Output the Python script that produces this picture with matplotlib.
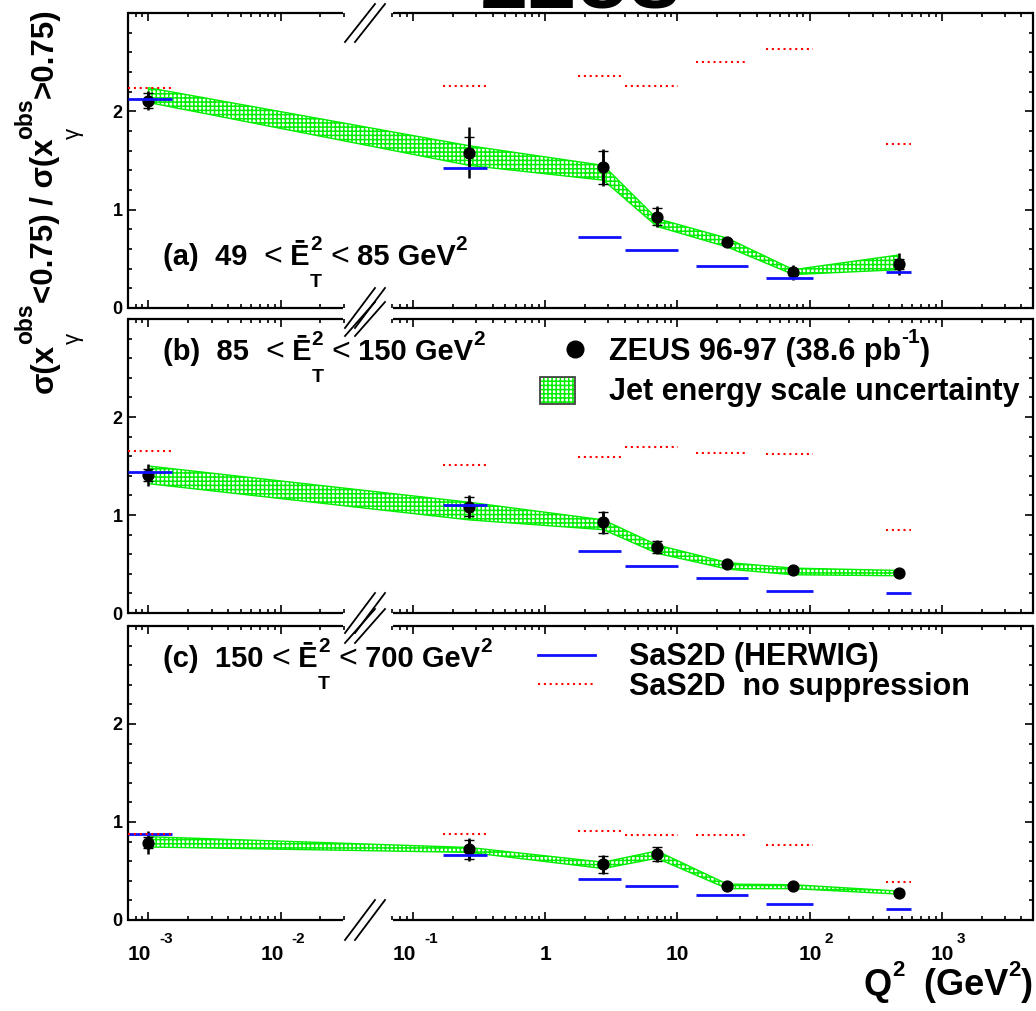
import numpy as np
import matplotlib
matplotlib.use('Agg')
import matplotlib.pyplot as plt
from matplotlib.ticker import FixedLocator, NullFormatter
from matplotlib.lines import Line2D
from matplotlib.patches import Rectangle
from matplotlib.transforms import offset_copy

plt.rcParams.update({
    'font.family': ['Liberation Sans', 'DejaVu Sans'],
    'font.weight': 'bold',
    'hatch.linewidth': 1.1,
})

# ---------------- data ----------------
q2 = [1e-3, 0.267, 2.76, 7.0, 23.9, 75.5, 478]
bin_lo = [7e-4, 0.1675, 1.76, 4.03, 13.9, 46.5, 380]
bin_hi = [1.5e-3, 0.366, 3.78, 10.2, 34.1, 107, 585]

a_y = [2.11, 1.58, 1.43, 0.93, 0.667, 0.362, 0.447]
a_stat = [0.08, 0.155, 0.165, 0.085, 0.02, 0.03, 0.055]
a_tot = [0.10, 0.26, 0.19, 0.11, 0.03, 0.08, 0.11]
a_hi = [2.24, 1.65, 1.45, 0.91, 0.71, 0.39, 0.54]
a_lo = [2.09, 1.45, 1.30, 0.83, 0.62, 0.34, 0.39]
a_blue = [2.13, 1.42, 0.72, 0.585, 0.423, 0.31, 0.368]
a_red = [2.24, 2.26, 2.36, 2.26, 2.50, 2.63, 1.67]

b_y = [1.41, 1.085, 0.925, 0.677, 0.50, 0.434, 0.413]
b_stat = [0.06, 0.10, 0.11, 0.06, 0.02, 0.02, 0.02]
b_tot = [0.11, 0.12, 0.12, 0.07, 0.03, 0.03, 0.03]
b_hi = [1.50, 1.13, 0.95, 0.695, 0.515, 0.458, 0.434]
b_lo = [1.32, 0.95, 0.85, 0.61, 0.448, 0.39, 0.38]
b_blue = [1.434, 1.10, 0.63, 0.484, 0.36, 0.224, 0.203]
b_red = [1.65, 1.51, 1.587, 1.69, 1.63, 1.62, 0.845]

c_y = [0.79, 0.72, 0.567, 0.67, 0.346, 0.346, 0.278]
c_stat = [0.06, 0.10, 0.085, 0.07, 0.02, 0.02, 0.02]
c_tot = [0.12, 0.12, 0.10, 0.08, 0.03, 0.03, 0.03]
c_hi = [0.85, 0.74, 0.59, 0.705, 0.366, 0.36, 0.295]
c_lo = [0.745, 0.69, 0.525, 0.63, 0.32, 0.32, 0.264]
c_blue = [0.875, 0.66, 0.414, 0.346, 0.254, 0.163, 0.115]
c_red = [0.875, 0.88, 0.905, 0.865, 0.87, 0.77, 0.39]

panel_tags = ['(a)', '(b)', '(c)']
et_low = ['49', '85', '150']
et_high = ['85', '150', '700']
xtick_vals = [1e-3, 1e-2, 1e-1, 1, 10, 100, 1000]
xtick_base = ['10', '10', '10', '1', '10', '10', '10']
xtick_exp = ['-3', '-2', '-1', '', '', '2', '3']

# ---------------- layout ----------------
W, H = 1036, 1011
fig = plt.figure(figsize=(W / 100, H / 100), dpi=100)
renderer = fig.canvas.get_renderer()
fx = lambda p: p / W
fy = lambda p: 1 - p / H

XMIN, XMAX = 7e-4, 4.9e3
BRK_LO, BRK_HI = 0.0298, 0.0711
GREEN = '#00ee00'
BLUE = '#1010ff'
RED = '#ff0000'
RED_LS = (0, (1, 1.8))


def chain(x0, y0, pieces, rot=False, right=None):
    """Write text pieces one after another (ROOT-like super/subscripts).
    pieces: (text, size, shift_px, advance, weight)"""
    pos = x0 if not rot else y0
    texts = []
    for s, size, shift, adv, weight in pieces:
        if not rot:
            t = fig.text(fx(pos), fy(y0 - shift), s, fontsize=size, ha='left',
                         va='baseline', fontweight=weight)
            w = t.get_window_extent(renderer).width
            if adv:
                pos += w
        else:
            t = fig.text(fx(x0 - shift), fy(pos), s, fontsize=size, rotation=90,
                         rotation_mode='anchor', ha='left', va='baseline',
                         fontweight=weight)
            w = t.get_window_extent(renderer).height
            if adv:
                pos -= w
        texts.append(t)
    if right is not None and not rot:
        d = right - pos
        for t in texts:
            t.set_x(t.get_position()[0] + d / W)
    return pos


panels_px = [(13, 308), (319, 613), (626, 920)]
label_base = [265, 360, 667]
datasets = [
    (a_y, a_stat, a_tot, a_hi, a_lo, a_blue, a_red),
    (b_y, b_stat, b_tot, b_hi, b_lo, b_blue, b_red),
    (c_y, c_stat, c_tot, c_hi, c_lo, c_blue, c_red),
]

minor_x = []
for e in range(-4, 4):
    for k in range(2, 10):
        v = k * 10.0 ** e
        if XMIN <= v <= XMAX and not (0.031 < v < 0.069):
            minor_x.append(v)

axes = []
for i, ((top, bot), (y, st, tot, hi, lo, blue, red)) in enumerate(zip(panels_px, datasets)):
    ax = fig.add_axes([fx(128), fy(bot), fx(1033) - fx(128), (bot - top) / H])
    axes.append(ax)
    ax.set_xscale('log')
    ax.fill_between(q2, lo, hi, facecolor='none', edgecolor=GREEN, hatch='++++',
                    linewidth=1.0, zorder=2)
    ax.errorbar(q2, y, yerr=tot, fmt='o', color='k', ms=7.8, elinewidth=1.8,
                capsize=0, zorder=4)
    ax.errorbar(q2, y, yerr=st, fmt='none', ecolor='k', elinewidth=1.8,
                capsize=3.8, capthick=1.0, zorder=4)
    ax.hlines(blue, bin_lo, bin_hi, colors=BLUE, linewidth=2.0, zorder=5)
    ax.hlines(red, bin_lo, bin_hi, colors=RED, linewidth=1.5,
              linestyles=RED_LS, zorder=6)

    for s in ('top', 'bottom'):
        ax.spines[s].set_visible(False)
    for s in ('left', 'right'):
        ax.spines[s].set_linewidth(1.6)
    tr = ax.get_xaxis_transform()
    for yy in (0, 1):
        ax.plot([XMIN, BRK_LO], [yy, yy], transform=tr, color='k', lw=1.6,
                clip_on=False, solid_capstyle='butt')
        ax.plot([BRK_HI, XMAX], [yy, yy], transform=tr, color='k', lw=1.6,
                clip_on=False, solid_capstyle='butt')

    ax.set_xlim(XMIN, XMAX)
    ax.set_ylim(0, 3)
    ax.xaxis.set_major_locator(FixedLocator(xtick_vals))
    ax.xaxis.set_minor_locator(FixedLocator(minor_x))
    ax.xaxis.set_major_formatter(NullFormatter())
    ax.xaxis.set_minor_formatter(NullFormatter())
    ax.yaxis.set_major_locator(FixedLocator([0, 1, 2]))
    ax.yaxis.set_minor_locator(FixedLocator([v / 5 for v in range(1, 15) if v % 5]))
    ax.tick_params(which='both', direction='in', top=True, right=True,
                   width=1.2, labelsize=13, pad=4)
    ax.tick_params(which='major', length=6)
    ax.tick_params(which='minor', length=3)
    for lab in ax.get_yticklabels():
        lab.set_fontweight('bold')

    # panel label "(a)  49  < Ē²_T < 85 GeV²"
    yb = label_base[i]
    sp = '  ' if i < 2 else ' '
    chain(163, yb, [
        (panel_tags[i] + '  ' + et_low[i] + sp, 21, 0, True, 'bold'),
        ('<', 23, 0, True, 'normal'),
        (' \u0112', 21, 0, True, 'bold'),
        ('2', 15, 15, False, 'bold'),
        ('T', 14, -22, True, 'bold'),
        (' ', 21, 0, True, 'bold'),
        ('<', 23, 0, True, 'normal'),
        (' ' + et_high[i] + ' GeV', 21, 0, True, 'bold'),
        ('2', 15, 15, True, 'bold'),
    ])

    # break marks "//"
    ends = ((top + 29, top - 9) if i == 0 else (top + 17, top - 17),
            (bot + 20, bot - 20))
    for (y0, y1) in ends:
        for x0 in (345, 355):
            fig.add_artist(Line2D([fx(x0), fx(x0 + 30)], [fy(y0), fy(y1)],
                                  color='k', lw=1.3))

# x tick labels on bottom panel (ROOT style 10^n)
axc = axes[2]
trc = axc.get_xaxis_transform()
for v, b, ex in zip(xtick_vals, xtick_base, xtick_exp):
    if ex == '':
        axc.text(v, 0, b, transform=offset_copy(trc, fig=fig, x=0, y=-40 * 0.72, units='points'),
                 ha='center', va='baseline', fontsize=15, fontweight='bold')
    else:
        dx_r = 3 if ex.startswith('-') else 12
        dx_l = 11 if ex.startswith('-') else 15
        axc.text(v, 0, b, transform=offset_copy(trc, fig=fig, x=dx_r * 0.72, y=-40 * 0.72, units='points'),
                 ha='right', va='baseline', fontsize=15, fontweight='bold')
        axc.text(v, 0, ex, transform=offset_copy(trc, fig=fig, x=dx_l * 0.72, y=-23 * 0.72, units='points'),
                 ha='left', va='baseline', fontsize=11, fontweight='bold')

# legends
fig.add_artist(Line2D([fx(575)], [fy(349)], marker='o', color='k', ms=12, lw=0))
chain(609, 360, [
    ('ZEUS 96-97 (38.6 pb', 22, 0, True, 'bold'),
    ('-1', 15, 17, True, 'bold'),
    (')', 22, 0, True, 'bold'),
])
fig.add_artist(Rectangle((fx(540), fy(404)), fx(575) - fx(540), (404 - 377) / H,
                         transform=fig.transFigure, facecolor='white', edgecolor=GREEN,
                         hatch='++++', lw=0))
fig.add_artist(Rectangle((fx(540), fy(404)), fx(575) - fx(540), (404 - 377) / H,
                         transform=fig.transFigure, facecolor='none', edgecolor='#444444', lw=1.3))
fig.text(fx(609), fy(400), 'Jet energy scale uncertainty', fontsize=22, ha='left', va='baseline')

fig.add_artist(Line2D([fx(538), fx(595)], [fy(655), fy(655)], color=BLUE, lw=2.0))
fig.text(fx(629), fy(665), 'SaS2D (HERWIG)', fontsize=22, ha='left', va='baseline')
fig.add_artist(Line2D([fx(538), fx(595)], [fy(684), fy(684)], color=RED, lw=1.5,
                      linestyle=RED_LS))
fig.text(fx(629), fy(695), 'SaS2D  no suppression', fontsize=22, ha='left', va='baseline')

# x axis title (right aligned to the frame)
chain(863, 995, [
    ('Q', 26, 0, True, 'bold'),
    ('2', 16, 19, True, 'bold'),
    ('  (GeV', 26, 0, True, 'bold'),
    ('2', 16, 19, True, 'bold'),
    (')', 26, 0, True, 'bold'),
], right=1033)

# y axis title (rotated), built bottom-up
chain(53, 393, [
    ('\u03c3(x', 22.5, 0, True, 'bold'),
    ('\u03b3', 16, -26, False, 'normal'),
    ('obs', 16.5, 21, True, 'bold'),
    ('<0.75) / \u03c3(x', 22.5, 0, True, 'bold'),
    ('\u03b3', 16, -26, False, 'normal'),
    ('obs', 16.5, 21, True, 'bold'),
    ('>0.75)', 22.5, 0, True, 'bold'),
], rot=True)

# ZEUS logo (cut at the top of the picture)
fig.text(fx(581), fy(7), 'ZEUS', fontsize=54, ha='center', va='baseline')

fig.savefig('out.png', dpi=100)
